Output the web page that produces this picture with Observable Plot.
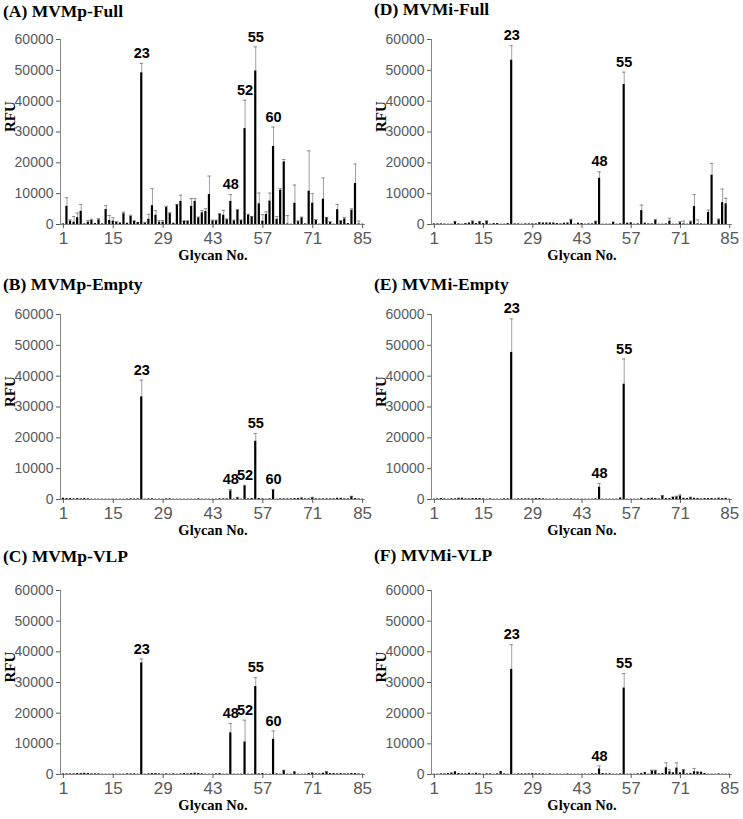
<!DOCTYPE html>
<html><head><meta charset="utf-8">
<script src="https://cdn.jsdelivr.net/npm/d3@7"></script>
<script src="https://cdn.jsdelivr.net/npm/@observablehq/plot@0.6"></script>
<style>
body{margin:0;background:#fff;}
#root{position:relative;width:743px;height:819px;overflow:hidden;background:#fff;}
.panel{position:absolute;}
.title{position:absolute;font-family:"Liberation Serif","Times New Roman",serif;font-weight:bold;font-size:17.5px;color:#000;white-space:nowrap;line-height:1;}
</style></head><body><div id="root"></div>
<script>
// ---- Data ----
const glycanNo = Array.from({length: 85}, (_, i) => i + 1);
const xTickLabels = [1, 15, 29, 43, 57, 71, 85];
const yTicks = [0, 10000, 20000, 30000, 40000, 50000, 60000];

const valuesA = [200,5900,1100,760,2200,4300,200,760,1300,300,1500,200,4900,1300,1100,650,500,3500,400,2600,1000,650,49200,400,1700,6100,3000,760,760,5500,3500,400,6300,7500,1000,1000,5900,7500,2100,3800,4200,9700,1100,1100,3300,3000,1500,7500,1100,4600,1200,31100,3000,2400,49800,6700,1100,3300,7600,25300,1700,11100,20300,200,100,6900,870,2100,200,10800,6900,1300,100,8200,2100,650,100,4800,1000,1800,300,4600,13300,200,100];
const sdA = {2:2800,3:400,4:1840,5:1500,6:2200,8:540,9:400,11:400,13:1200,14:1600,15:1100,16:300,18:500,20:400,21:200,23:3000,24:300,25:1600,26:5500,27:1500,28:540,29:540,30:400,31:300,33:200,34:2000,35:200,36:200,37:2500,38:900,39:300,40:700,41:900,42:6000,43:300,44:300,45:200,46:1600,47:300,48:2200,49:300,50:200,51:300,52:9200,53:300,54:200,55:7800,56:3500,57:2100,58:800,59:2600,60:6300,61:900,62:500,63:800,64:2700,66:5900,67:300,68:300,70:13100,71:3100,72:300,74:6900,75:200,76:300,78:1700,79:300,80:500,82:500,83:6300,84:900};
const peaksA = [23, 48, 52, 55, 60];

const valuesB = [400,300,300,200,300,200,300,200,100,100,100,100,100,100,100,100,100,100,150,200,150,200,33300,100,200,200,100,100,100,200,200,100,100,100,100,100,100,100,200,100,100,100,100,100,200,200,200,2800,100,500,100,4300,200,300,18900,300,200,100,200,3000,100,200,200,200,200,300,300,500,200,200,500,200,200,200,200,200,200,400,400,200,200,860,300,200,100];
const sdB = {23:5400,48:400,50:200,52:300,55:2500,60:300,71:200,82:200};
const peaksB = [23, 48, 52, 55, 60];

const valuesC = [200,200,200,200,300,300,400,300,200,200,200,100,100,100,100,100,100,100,200,200,200,100,36400,100,200,300,300,200,100,200,100,200,100,200,300,200,300,400,300,200,100,100,100,200,300,100,100,13600,100,100,100,10600,100,100,28700,200,300,100,100,11500,200,100,1200,100,100,870,100,100,100,300,500,200,200,400,760,300,300,200,300,200,200,300,300,200,100];
const sdC = {23:1300,48:3000,52:7100,55:2900,60:2700,63:200,75:200};
const peaksC = [23, 48, 52, 55, 60];

const valuesD = [200,200,200,150,100,100,800,200,100,300,500,900,300,800,300,1000,100,300,300,100,100,300,53300,200,200,100,200,200,200,200,600,500,500,500,500,300,200,400,500,1400,100,430,300,100,200,200,860,15000,100,100,100,750,100,200,45400,430,540,100,200,4500,430,200,200,1300,100,100,200,1100,100,100,540,200,100,750,5800,200,200,100,3900,16000,100,1500,7100,6700,0];
const sdD = {7:200,12:300,14:200,16:200,23:4700,40:300,47:200,48:2100,55:4000,60:1800,64:300,68:900,71:430,72:900,74:350,75:3900,76:1300,79:800,80:3800,82:300,83:4400,84:1800};
const peaksD = [23, 48, 55];

const valuesE = [100,200,300,200,100,200,200,400,400,200,200,300,300,300,200,100,200,100,100,100,200,200,47700,100,200,200,200,200,200,300,300,200,100,100,100,200,100,100,100,200,100,100,100,100,100,100,200,4000,100,100,100,100,100,500,37400,100,100,100,100,400,100,300,400,300,200,1100,300,300,650,760,1100,400,300,540,400,300,200,300,300,300,200,430,300,400,100];
const sdE = {23:10900,48:1200,55:8200,66:200,69:200,70:300,71:400,74:200};
const peaksE = [23, 48, 55];

const valuesF = [100,100,200,200,300,500,900,300,200,200,430,200,400,200,100,200,200,100,200,1000,200,100,34300,100,200,200,200,200,300,200,200,200,100,200,100,100,100,100,200,100,100,100,100,100,100,200,200,1800,300,200,200,100,100,200,28200,100,100,100,200,300,650,100,1100,1100,200,300,2200,870,540,2100,540,1400,200,300,870,650,760,300,100,100,100,200,100,100,100];
const sdF = {23:8000,48:1000,55:4700,63:300,64:300,67:1600,68:700,70:1700,72:200,75:1100,76:300};
const peaksF = [23, 48, 55];

const titles = ["(A) MVMp-Full","(B) MVMp-Empty","(C) MVMp-VLP","(D) MVMi-Full","(E) MVMi-Empty","(F) MVMi-VLP"];

// ---- Layout ----
const cols = [{left: 0, marginLeft: 60, marginRight: 7, titleX: 3}, {left: 371, marginLeft: 60, marginRight: 11, titleX: 3}];
const rows = [
  {top: 0, height: 270, marginTop: 39, marginBottom: 46, baseline: [17.5, 16]},
  {top: 270, height: 270, marginTop: 44, marginBottom: 41, baseline: [291, 291]},
  {top: 540, height: 279, marginTop: 50, marginBottom: 45, baseline: [563, 562]}
];

const panels = [
  {title: titles[0], values: valuesA, sd: sdA, peaks: peaksA, col: 0, row: 0},
  {title: titles[1], values: valuesB, sd: sdB, peaks: peaksB, col: 0, row: 1},
  {title: titles[2], values: valuesC, sd: sdC, peaks: peaksC, col: 0, row: 2},
  {title: titles[3], values: valuesD, sd: sdD, peaks: peaksD, col: 1, row: 0},
  {title: titles[4], values: valuesE, sd: sdE, peaks: peaksE, col: 1, row: 1},
  {title: titles[5], values: valuesF, sd: sdF, peaks: peaksF, col: 1, row: 2}
];

const root = document.getElementById("root");
const serif = "Liberation Serif, Times New Roman, serif";
const sans = "Liberation Sans, Arial, Helvetica, sans-serif";

for (const p of panels) {
  const c = cols[p.col], r = rows[p.row];
  const data = glycanNo.map((g, i) => ({g, v: p.values[i], top: p.values[i] + (p.sd[g] || 0), sd: p.sd[g] || 0}));
  const errData = data.filter(d => d.sd > 0);
  const peakData = data.filter(d => p.peaks.includes(d.g));

  const chart = Plot.plot({
    width: 372,
    height: r.height,
    marginLeft: c.marginLeft,
    marginRight: c.marginRight,
    marginTop: r.marginTop,
    marginBottom: r.marginBottom,
    style: {fontFamily: sans, color: "#595959", background: "transparent", overflow: "visible"},
    x: {type: "band", domain: glycanNo, paddingInner: 0.38, paddingOuter: 0.5, round: false},
    y: {domain: [0, 60000], nice: false},
    marks: [
      Plot.ruleX(errData, {x: "g", y1: "v", y2: "top", stroke: "#a0a0a0", strokeWidth: 1}),
      Plot.tickY(errData, {x: "g", y: "top", stroke: "#8c8c8c", strokeWidth: 1, insetLeft: -0.6, insetRight: -0.6}),
      Plot.barY(data, {x: "g", y: "v", fill: "#000"}),
      Plot.ruleY([0], {stroke: "#868686", strokeWidth: 1}),
      Plot.frame({anchor: "left", stroke: "#868686", strokeWidth: 1}),
      Plot.axisY({ticks: yTicks, tickFormat: d3.format("d"), tickSize: 4, tickPadding: 3, fontSize: 14, label: null}),
      Plot.axisX({ticks: xTickLabels, tickSize: 4, tickPadding: 3, fontSize: 17, label: null}),
      Plot.text(peakData, {x: "g", y: "top", text: d => String(d.g), dy: -10, fontWeight: "bold", fontSize: 14.5, fill: "#000", fontFamily: sans}),
      Plot.text(["Glycan No."], {text: d => d, frameAnchor: "bottom", dy: 35, fontFamily: serif, fontWeight: "bold", fontSize: 14.5, fill: "#000"}),
      Plot.text(["RFU"], {text: d => d, frameAnchor: "left", dx: -50, rotate: -90, fontFamily: serif, fontWeight: "bold", fontSize: 15, fill: "#000"})
    ]
  });
  const wrap = document.createElement("div");
  wrap.className = "panel";
  wrap.style.left = c.left + "px";
  wrap.style.top = r.top + "px";
  wrap.appendChild(chart);
  root.appendChild(wrap);

  const t = document.createElement("div");
  t.className = "title";
  t.textContent = p.title;
  t.style.left = (c.left + c.titleX) + "px";
  t.style.top = (r.baseline[p.col] - 14.7) + "px";
  root.appendChild(t);
}
</script>
</body></html>
